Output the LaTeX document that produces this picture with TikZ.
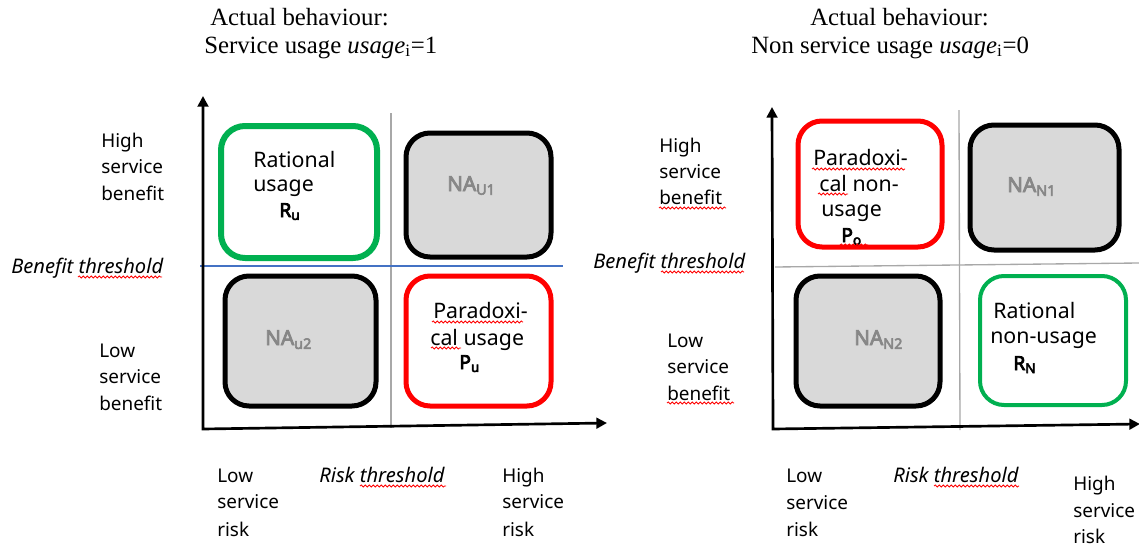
\documentclass[tikz,border=0pt]{standalone}
\usepackage{fontspec}
\setmainfont{Liberation Serif}
\newfontfamily\nsans{Noto Sans}
\newfontfamily\nsansbold{Noto Sans}[FakeBold=4]
\usetikzlibrary{arrows.meta,decorations.pathmorphing}
\definecolor{boxgreen}{RGB}{0,176,80}
\definecolor{boxred}{RGB}{255,0,0}
\definecolor{boxfill}{RGB}{217,217,217}
\definecolor{natext}{RGB}{135,135,135}
\definecolor{thblue}{RGB}{68,114,196}
\definecolor{thgray}{RGB}{168,168,168}
\begin{document}
\begin{tikzpicture}[x=0.75pt,y=-0.75pt,
  titletxt/.style={anchor=base west, inner sep=0pt, font=\fontsize{18.6}{22}\selectfont},
  lab/.style={anchor=base west, inner sep=0pt, font=\nsans\fontsize{14.2}{17}\selectfont},
  ilab/.style={anchor=base west, inner sep=0pt, font=\nsans\itshape\fontsize{15.1}{17}\selectfont},
  btxt/.style={anchor=base west, inner sep=0pt, font=\nsans\fontsize{16}{19}\selectfont},
  bsym/.style={anchor=base west, inner sep=0pt, font=\nsansbold\fontsize{14.5}{17}\selectfont},
  natxt/.style={anchor=base west, inner sep=0pt, text=natext, font=\nsansbold\fontsize{15.5}{17}\selectfont},
  quad/.style={rounded corners=18pt, inner sep=0pt, outer sep=0pt},
  greenbox/.style={quad, draw=boxgreen, fill=white},
  redbox/.style={quad, draw=boxred, fill=white, line width=3.75pt},
  nabox/.style={quad, draw=black, fill=boxfill, line width=3.75pt},
  axis/.style={line width=2pt, {Triangle[length=8pt,width=8pt]}-{Triangle[length=8pt,width=8pt]}},
  thline/.style={draw=thgray, line width=1pt},
  squig/.style={draw=boxred, line width=0.6pt, decorate, decoration={snake, amplitude=0.8pt, segment length=3pt}}
]
\useasboundingbox (0,0) rectangle (1139,550);

% ---------------- Left panel ----------------
\node[titletxt] (lt1) at (210,25) {Actual behaviour:};
\node[titletxt] (lt2) at (204,53) {Service usage \textit{usage}\textsubscript{i}=1};

\coordinate (lvtop) at (391,113);
\coordinate (lvbot) at (391,428);
\draw[thline] (lvtop) -- (lvbot);
\coordinate (lhl) at (200,266);
\coordinate (lhr) at (563,266);
\draw[draw=thblue, line width=1pt] (lhl) -- (lhr);

\coordinate (lo) at (203,429);
\coordinate (ltop) at (203,96);
\coordinate (lright) at (607,423);
\draw[axis] (ltop) -- (lo) -- (lright);

\node[greenbox, line width=4.5pt, minimum width=117pt, minimum height=99pt] (ru) at (299,192) {};
\node[nabox, minimum width=108.75pt, minimum height=93pt] (nau1) at (478.5,195) {};
\node[nabox, minimum width=113.25pt, minimum height=97.5pt] (nau2) at (300.5,341) {};
\node[redbox, minimum width=108.75pt, minimum height=97.5pt] (pu) at (478.5,341) {};

\node[btxt] (ru1) at (253,167) {Rational};
\node[btxt] (ru2) at (253,191) {usage};
\node[bsym] (ru3) at (279,217) {R\textsubscript{u}};
\node[natxt] (nau1t) at (447,191) {NA\textsubscript{U1}};
\node[natxt] (nau2t) at (265,345) {NA\textsubscript{u2}};
\node[btxt] (pu1) at (433,318) {Paradoxi-};
\node[btxt] (pu2) at (430,345) {cal usage};
\node[bsym] (pu3) at (459,369) {P\textsubscript{u}};

\node[lab] (lhb1) at (101,147) {High};
\node[lab] (lhb2) at (101,173) {service};
\node[lab] (lhb3) at (101,200) {benefit};
\node[ilab] (lbt) at (11,273) {Benefit threshold};
\node[lab] (llb1) at (99,357) {Low};
\node[lab] (llb2) at (99,383) {service};
\node[lab] (llb3) at (99,410) {benefit};
\node[lab] (llr1) at (217,482) {Low};
\node[lab] (llr2) at (217,508) {service};
\node[lab] (llr3) at (217,536) {risk};
\node[ilab] (lrt) at (319,482) {Risk threshold};
\node[lab] (lhr1) at (502,482) {High};
\node[lab] (lhr2) at (502,508) {service};
\node[lab] (lhr3) at (502,536) {risk};

\draw[squig] (78,277) -- (162,277);
\draw[squig] (360,486) -- (446,486);
\draw[squig] (432,322) -- (523,322);
\draw[squig] (431,348) -- (461,348);

% ---------------- Right panel ----------------
\node[titletxt] (rt1) at (810,25) {Actual behaviour:};
\node[titletxt] (rt2) at (751,53) {Non service usage \textit{usage}\textsubscript{i}=0};

\coordinate (rvtop) at (959,110);
\coordinate (rvbot) at (960,430);
\draw[thline] (rvtop) -- (rvbot);
\coordinate (rhl) at (775,267);
\coordinate (rhr) at (1139,263);
\draw[thline] (rhl) -- (rhr);

\coordinate (ro) at (773,429);
\coordinate (rtop) at (772,107);
\coordinate (rright) at (1140,424);
\draw[axis] (rtop) -- (ro) -- (rright);

\node[redbox, minimum width=108pt, minimum height=94.5pt] (po) at (870,184) {};
\node[nabox, minimum width=111.75pt, minimum height=93.75pt] (nan1) at (1044.5,187.5) {};
\node[nabox, minimum width=108pt, minimum height=97.5pt] (nan2) at (868,341) {};
\node[greenbox, line width=3pt, minimum width=109.5pt, minimum height=96.75pt] (rn) at (1053,340.5) {};

\node[btxt] (po1) at (813,165) {Paradoxi-};
\node[btxt] (po2) at (819,191) {cal non-};
\node[btxt] (po3) at (821,216) {usage};
\node[bsym] (po4) at (841,242) {P\textsubscript{o}};
\node[natxt] (nan1t) at (1007,192) {NA\textsubscript{N1}};
\node[natxt] (nan2t) at (854,345) {NA\textsubscript{N2}};
\node[btxt] (rn1) at (993,318) {Rational};
\node[btxt] (rn2) at (990,343) {non-usage};
\node[bsym] (rn3) at (1013,370) {R\textsubscript{N}};

\node[lab] (rhb1) at (659,152) {High};
\node[lab] (rhb2) at (659,178) {service};
\node[lab] (rhb3) at (659,204) {benefit};
\node[ilab] (rbt) at (593,268) {Benefit threshold};
\node[lab] (rlb1) at (667,347) {Low};
\node[lab] (rlb2) at (667,373) {service};
\node[lab] (rlb3) at (667,400) {benefit};
\node[lab] (rlr1) at (786,482) {Low};
\node[lab] (rlr2) at (786,509) {service};
\node[lab] (rlr3) at (786,536) {risk};
\node[ilab] (rrt) at (893,482) {Risk threshold};
\node[lab] (rhr1) at (1073,490) {High};
\node[lab] (rhr2) at (1073,517) {service};
\node[lab] (rhr3) at (1073,543) {risk};

\draw[squig] (661,272) -- (744,272);
\draw[squig] (934,486) -- (1019,486);
\draw[squig] (659,208) -- (726,208);
\draw[squig] (667,403) -- (734,403);
\draw[squig] (812,169) -- (905,169);
\draw[squig] (818,194) -- (848,194);
\draw[squig] (840,245) -- (868,245);
\end{tikzpicture}
\end{document}
